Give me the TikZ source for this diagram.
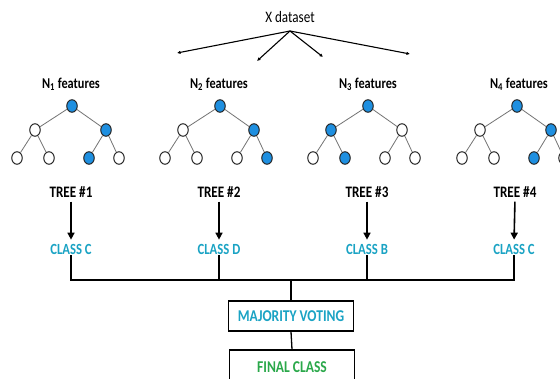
\documentclass[tikz,border=0pt]{standalone}
\usepackage{fontspec}
\setmainfont{Carlito}
\newfontfamily\condf[FakeStretch=0.82]{Carlito}
\usetikzlibrary{arrows.meta,shapes.geometric}
\definecolor{nodeblue}{HTML}{1E8FE0}
\definecolor{classcyan}{HTML}{1AA3C4}
\definecolor{finalgreen}{HTML}{2AA84A}
\tikzset{
  tn/.style={draw=black!85, line width=1pt, ellipse, minimum width=10.5pt, minimum height=12.5pt, inner sep=0pt},
  tedge/.style={draw=black!55, line width=0.8pt},
  feat/.style={font=\condf\bfseries\fontsize{15}{17}\selectfont, inner sep=1pt},
  treelab/.style={font=\condf\bfseries\fontsize{16}{18}\selectfont, inner sep=1pt},
  classlab/.style={font=\condf\bfseries\fontsize{15.5}{17}\selectfont, text=classcyan, inner sep=1pt},
  boxn/.style={draw=black, line width=1.4pt, fill=white, minimum width=125pt, minimum height=30pt, inner sep=0pt},
  bigarrow/.style={line width=1.6pt, -{Triangle[length=7pt,width=7pt]}},
  dsarrow/.style={line width=1.1pt, -{Latex[length=3.5pt,width=3.5pt]}},
  bus/.style={line width=1.3pt}
}
\newcommand\mytree[9]{%
  \begin{scope}[shift={(#2,0)}]
    \node[tn,fill=#3] (#1r) at (0,106) {};
    \node[tn,fill=#4] (#1a) at (-37,130) {};
    \node[tn,fill=#5] (#1b) at (34,130) {};
    \node[tn,fill=#6] (#1aa) at (-55,158) {};
    \node[tn,fill=#7] (#1ab) at (-23,158) {};
    \node[tn,fill=#8] (#1ba) at (17,158) {};
    \node[tn,fill=#9] (#1bb) at (47,158) {};
    \draw[tedge] (#1r) -- (#1a);
    \draw[tedge] (#1r) -- (#1b);
    \draw[tedge] (#1a) -- (#1aa);
    \draw[tedge] (#1a) -- (#1ab);
    \draw[tedge] (#1b) -- (#1ba);
    \draw[tedge] (#1b) -- (#1bb);
  \end{scope}}
\begin{document}
\begin{tikzpicture}[x=1pt,y=-1pt]
\clip (0,0) rectangle (560,379);
\fill[white] (0,0) rectangle (560,379);

% dataset
\node[font=\condf\fontsize{16}{18}\selectfont, inner sep=1pt] (ds) at (290,17) {X dataset};
\coordinate (apex) at (290,31);
\coordinate (d1) at (177,53);
\coordinate (d2) at (257,61);
\coordinate (d3) at (323,57);
\coordinate (d4) at (410,54);
\foreach \d in {d1,d2,d3,d4} \draw[dsarrow] (apex) -- (\d);

% feature labels
\node[feat] (f1) at (71,84) {N\textsubscript{1} features};
\node[feat] (f2) at (219,84) {N\textsubscript{2} features};
\node[feat] (f3) at (368,84) {N\textsubscript{3} features};
\node[feat] (f4) at (519,84) {N\textsubscript{4} features};

% trees
\mytree{a}{72}{nodeblue}{white}{nodeblue}{white}{white}{nodeblue}{white}
\mytree{b}{220}{nodeblue}{white}{nodeblue}{white}{white}{white}{nodeblue}
\mytree{c}{368}{nodeblue}{nodeblue}{white}{white}{nodeblue}{white}{white}
\mytree{d}{517}{nodeblue}{white}{nodeblue}{white}{white}{nodeblue}{white}

% tree labels
\node[treelab] (t1) at (71,192) {TREE \#1};
\node[treelab] (t2) at (219,192) {TREE \#2};
\node[treelab] (t3) at (367,192) {TREE \#3};
\node[treelab] (t4) at (515,192) {TREE \#4};

% class labels
\node[classlab] (c1) at (71,249) {CLASS C};
\node[classlab] (c2) at (219,249) {CLASS D};
\node[classlab] (c3) at (367,249) {CLASS B};
\node[classlab] (c4) at (514,249) {CLASS C};

\foreach \i in {1,2,3,4}
  \draw[bigarrow, shorten <=3pt, shorten >=3pt] (t\i.south) -- (c\i.north);

% bus
\coordinate (bus) at (291,280);
\draw[bus] (c1.south) |- (c4.south |- bus) -- (c4.south);
\draw[bus] (c2.south) -- (c2.south |- bus);
\draw[bus] (c3.south) -- (c3.south |- bus);

% boxes
\node[boxn, font=\condf\bfseries\fontsize{16.5}{18}\selectfont, text=classcyan] (mv) at (291,316) {MAJORITY VOTING};
\node[boxn, minimum height=34pt, font=\condf\bfseries\fontsize{16.5}{18}\selectfont, text=finalgreen] (fc) at (292,367) {FINAL CLASS};
\draw[bus] (bus) -- (mv.north);
\draw[bus] (mv.south) -- (fc.north);
\end{tikzpicture}
\end{document}
